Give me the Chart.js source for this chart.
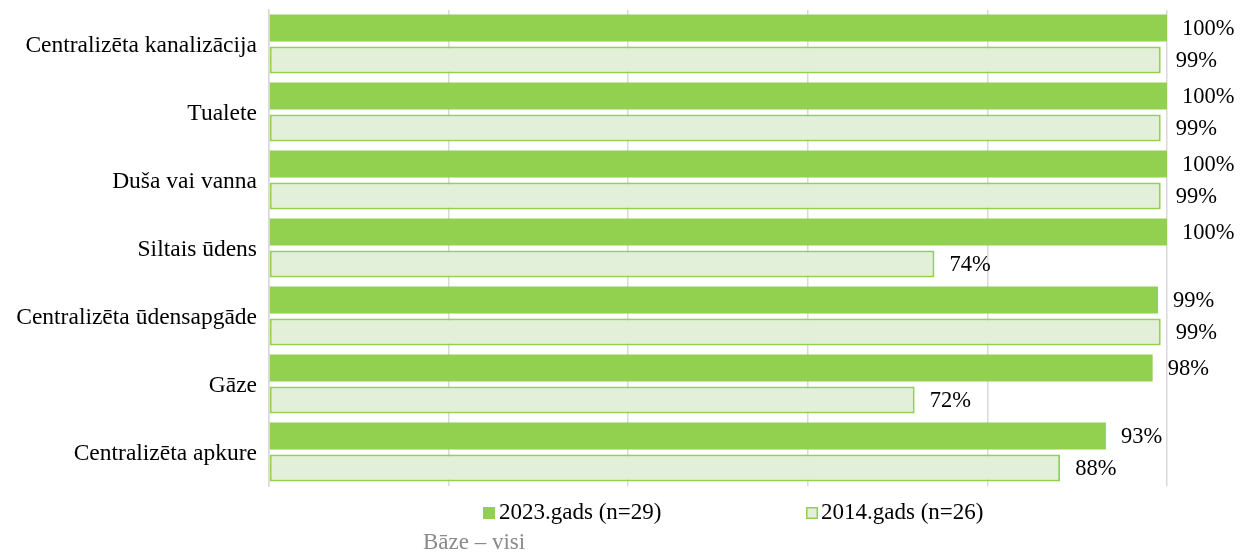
<!DOCTYPE html>
<html>
<head>
<meta charset="utf-8">
<script src="https://cdn.jsdelivr.net/npm/chart.js@4"></script>
<style>
html,body{margin:0;padding:0;background:#fff;}
#wrap{position:relative;width:1243px;height:556px;}
</style>
</head>
<body>
<div id="wrap"><canvas id="c" width="1243" height="556"></canvas></div>
<script>
const categories = ["Centralizēta kanalizācija","Tualete","Duša vai vanna","Siltais ūdens","Centralizēta ūdensapgāde","Gāze","Centralizēta apkure"];
const values2023 = [100,100,100,100,99,98.4,93.2];
const values2014 = [99.3,99.3,99.3,74.1,99.3,71.9,88.1];
const seriesNames = ["2023.gads (n=29)","2014.gads (n=26)"];
const xTicks = [0,20,40,60,80,100];
const baseNote = "Bāze – visi";

const FONT = '"Liberation Serif","Times New Roman",serif';
const GREEN = '#92d050';
const LIGHT = '#e2efd9';

const labelPlugin = {
  id:'valueLabels',
  afterDatasetsDraw(chart){
    const ctx = chart.ctx;
    ctx.save();
    ctx.font = '22.5px ' + FONT;
    ctx.fillStyle = '#000';
    ctx.textBaseline = 'middle';
    ctx.textAlign = 'left';
    chart.data.datasets.forEach((ds,i)=>{
      const meta = chart.getDatasetMeta(i);
      meta.data.forEach((bar,j)=>{
        ctx.fillText(Math.round(ds.data[j]) + '%', bar.x + 15, bar.y + 1);
      });
    });
    ctx.restore();
  }
};

const legendPlugin = {
  id:'customLegend',
  afterDraw(chart){
    const ctx = chart.ctx;
    ctx.save();
    ctx.font = '23px ' + FONT;
    ctx.textBaseline = 'middle';
    ctx.textAlign = 'left';
    const y = 513;
    ctx.fillStyle = GREEN;
    ctx.fillRect(483, y-6, 12, 12);
    ctx.fillStyle = '#000';
    ctx.fillText(seriesNames[0], 499, y);
    ctx.fillStyle = LIGHT;
    ctx.fillRect(806, y-6, 12, 12);
    ctx.strokeStyle = GREEN;
    ctx.lineWidth = 1.5;
    ctx.strokeRect(806.75, y-5.25, 10.5, 10.5);
    ctx.fillStyle = '#000';
    ctx.fillText(seriesNames[1], 821, y);
    ctx.font = '23px ' + FONT;
    ctx.fillStyle = '#8a8a8a';
    ctx.fillText(baseNote, 423, 543);
    ctx.restore();
  }
};

new Chart(document.getElementById('c'), {
  type:'bar',
  data:{
    labels:categories,
    datasets:[
      {label:seriesNames[0], data:values2023, backgroundColor:GREEN, borderColor:GREEN, borderWidth:0,
       categoryPercentage:0.94, barPercentage:0.84},
      {label:seriesNames[1], data:values2014, backgroundColor:LIGHT, borderColor:GREEN, borderWidth:2, borderSkipped:false,
       categoryPercentage:0.94, barPercentage:0.84}
    ]
  },
  options:{
    indexAxis:'y',
    responsive:false,
    animation:false,
    layout:{padding:{top:10,right:76,bottom:70,left:0}},
    plugins:{legend:{display:false},tooltip:{enabled:false}},
    scales:{
      x:{
        min:0,max:100,
        afterBuildTicks(scale){ scale.ticks = xTicks.map(v=>({value:v})); },
        ticks:{display:false},
        grid:{color:'#d9d9d9',lineWidth:1.5,drawTicks:false},
        border:{display:false},
        afterFit(scale){ scale.height = 0; scale.paddingLeft = 0; scale.paddingRight = 0; }
      },
      y:{
        ticks:{color:'#000',font:{family:FONT,size:23.5},padding:12,labelOffset:2},
        grid:{display:false,drawTicks:false},
        border:{display:true,color:'#d9d9d9',width:1.5},
        afterFit(scale){ scale.width = 269; scale.paddingTop = 0; scale.paddingBottom = 0; }
      }
    }
  },
  plugins:[labelPlugin,legendPlugin]
});
</script>
</body>
</html>
